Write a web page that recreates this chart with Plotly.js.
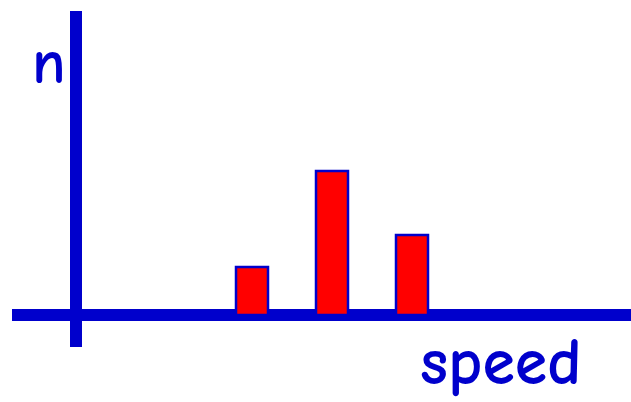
<!DOCTYPE html>
<html>
<head>
<meta charset="utf-8">
<script src="https://cdn.plot.ly/plotly-3.0.1.min.js"></script>
<style>html,body{margin:0;padding:0;background:#fff;}#chart{width:631px;height:402px;}</style>
</head>
<body>
<div id="chart"></div>
<script>
// Data
const speeds = [22, 32, 42];
const counts = [3, 9, 5];
const xLabel = "speed";
const yLabel = "n";

const BLUE = "#0000CC";
const RED = "#FF0000";
const FONT = "'Comic Sans MS', 'Comic Neue', 'DejaVu Sans', sans-serif";

const trace = {
  type: "bar",
  x: speeds,
  y: counts,
  width: 4,
  marker: {color: RED, line: {color: BLUE, width: 2.5}},
  hoverinfo: "skip"
};

const layout = {
  width: 631, height: 402,
  margin: {l: 12, r: 0, t: 11, b: 55, pad: 0},
  paper_bgcolor: "#fff", plot_bgcolor: "#fff",
  showlegend: false,
  xaxis: {range: [-8, 69.375], showgrid: false, showticklabels: false, ticks: "",
          zeroline: true, zerolinecolor: BLUE, zerolinewidth: 12, showline: false, fixedrange: true},
  yaxis: {range: [-2, 19], showgrid: false, showticklabels: false, ticks: "",
          zeroline: true, zerolinecolor: BLUE, zerolinewidth: 12, showline: false, fixedrange: true},
  annotations: [
    {text: yLabel, xref: "paper", yref: "paper", x: 0.06, y: 0.845, xanchor: "center", yanchor: "middle",
     showarrow: false, font: {family: FONT, size: 62, weight: "bold", color: BLUE}},
    {text: xLabel, xref: "paper", yref: "paper", x: 0.79, y: -0.048, xanchor: "center", yanchor: "middle",
     showarrow: false, font: {family: FONT, size: 66, weight: "bold", color: BLUE}}
  ]
};

Plotly.newPlot("chart", [trace], layout, {displayModeBar: false, staticPlot: true});
</script>
</body>
</html>
